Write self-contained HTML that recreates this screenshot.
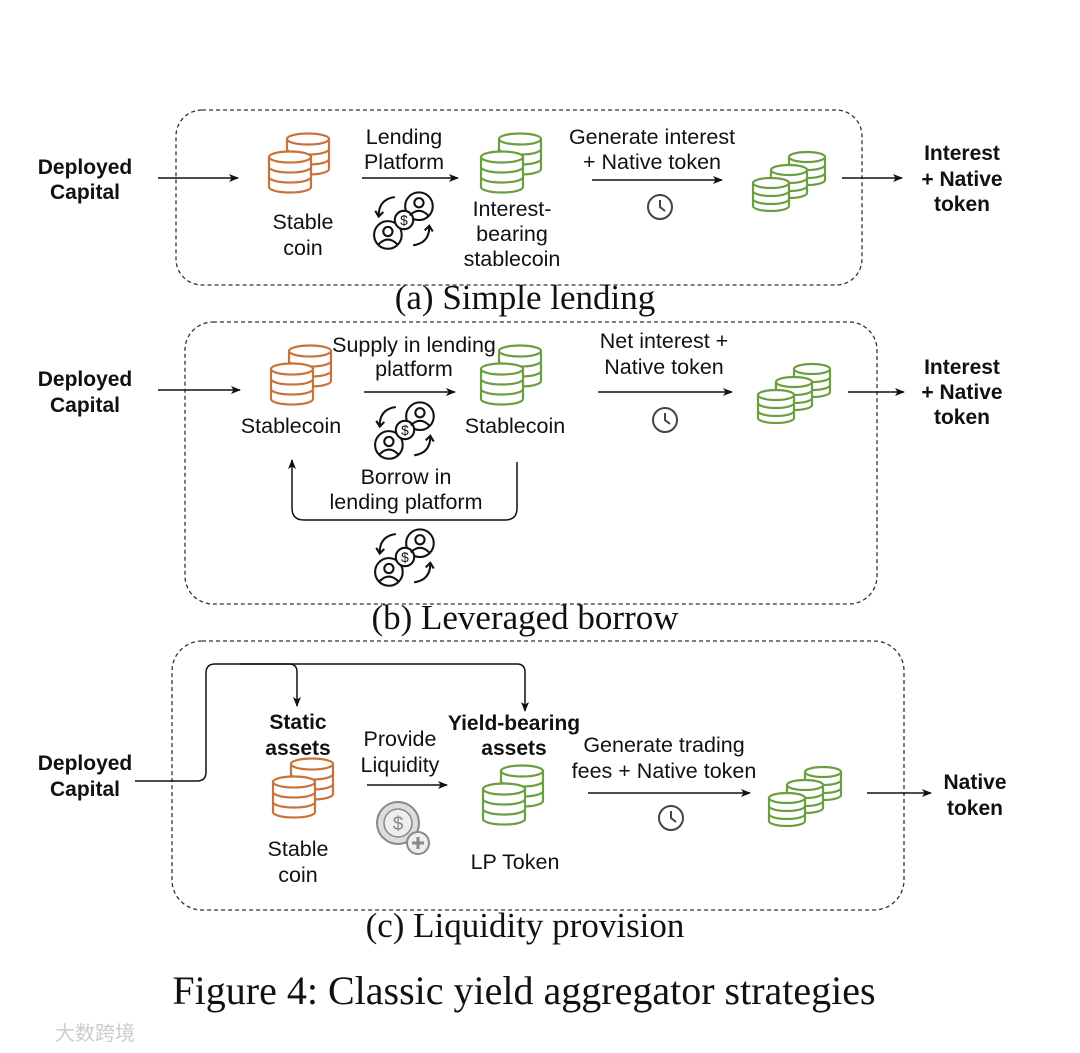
<!DOCTYPE html>
<html><head><meta charset="utf-8"><style>
html,body{margin:0;padding:0;background:#fff;}
svg{display:block;}
.t{font-family:"Liberation Sans",sans-serif;font-size:21.5px;fill:#111;text-anchor:middle;}
.b{font-weight:bold;font-size:21px;}
.cap{font-family:"Liberation Serif",serif;font-size:35px;fill:#111;text-anchor:middle;}
</style></head><body>
<svg width="1080" height="1053" viewBox="0 0 1080 1053" xmlns="http://www.w3.org/2000/svg">
<defs>
<marker id="ah" markerWidth="10" markerHeight="10" refX="9" refY="5" orient="auto" markerUnits="userSpaceOnUse">
<path d="M0,1 L10,5 L0,9 L2.5,5 Z" fill="#111"/></marker>
<symbol id="cyl" overflow="visible">
<g fill="#fff" stroke="currentColor" stroke-width="2.2">
<path d="M1,6 V36 A21,5.5 0 0 0 43,36 V6 Z"/>
<ellipse cx="22" cy="6" rx="21" ry="5.5"/>
<path d="M1,16 A21,5.5 0 0 0 43,16 M1,26 A21,5.5 0 0 0 43,26" fill="none"/>
</g></symbol>
<symbol id="cys" overflow="visible">
<g fill="#fff" stroke="currentColor" stroke-width="2.2">
<path d="M1,5 V28 A18,5 0 0 0 37,28 V5 Z"/>
<ellipse cx="19" cy="5" rx="18" ry="5"/>
<path d="M1,13 A18,5 0 0 0 37,13 M1,21 A18,5 0 0 0 37,21" fill="none"/>
</g></symbol>
<symbol id="two" overflow="visible">
<use href="#cyl" x="18" y="0"/><use href="#cyl" x="0" y="18"/>
</symbol>
<symbol id="three" overflow="visible">
<use href="#cys" x="36" y="0"/><use href="#cys" x="18" y="13"/><use href="#cys" x="0" y="26"/>
</symbol>
<symbol id="lend" overflow="visible">
<g transform="scale(1.15)">
<g fill="none" stroke="#111" stroke-width="1.8">
<circle cx="13" cy="-12" r="12"/>
<circle cx="-14" cy="13" r="12"/>
<circle cx="0" cy="0" r="8" fill="#fff"/>
<circle cx="13" cy="-15" r="4"/><path d="M5,-4 Q13,-12 21,-4"/>
<circle cx="-14" cy="10" r="4"/><path d="M-22,21 Q-14,13 -6,21"/>
<path d="M-8,-20 Q-22,-18 -22,-4"/><path d="M-25,-8 L-22,-3 L-18,-7"/>
<path d="M8,22 Q22,20 22,6"/><path d="M18,9 L22,5 L25,10"/>
</g>
<text x="0" y="4.5" font-family="Liberation Sans,sans-serif" font-size="12" text-anchor="middle" fill="#111">$</text>
</g>
</symbol>
<symbol id="clock" overflow="visible">
<circle cx="0" cy="0" r="12" fill="none" stroke="#444" stroke-width="2"/>
<path d="M0,-7 V0 L5,4" fill="none" stroke="#444" stroke-width="2"/>
</symbol>
</defs>

<!-- Panel a -->
<rect x="176" y="110" width="686" height="175" rx="26" fill="none" stroke="#333" stroke-width="1.3" stroke-dasharray="4,3"/>
<text class="t b" x="85" y="174">Deployed</text><text class="t b" x="85" y="199">Capital</text>
<line x1="158" y1="178" x2="238" y2="178" stroke="#111" stroke-width="1.5" marker-end="url(#ah)"/>
<use href="#two" x="268" y="133" style="color:#c8733a"/>
<text class="t" x="303" y="229">Stable</text><text class="t" x="303" y="255">coin</text>
<text class="t" x="404" y="144">Lending</text><text class="t" x="404" y="169">Platform</text>
<line x1="362" y1="178" x2="458" y2="178" stroke="#111" stroke-width="1.5" marker-end="url(#ah)"/>
<use href="#lend" x="404" y="220"/>
<use href="#two" x="480" y="133" style="color:#6a9e3f"/>
<text class="t" x="512" y="216">Interest-</text><text class="t" x="512" y="241">bearing</text><text class="t" x="512" y="266">stablecoin</text>
<text class="t" x="652" y="144">Generate interest</text><text class="t" x="652" y="169">+ Native token</text>
<line x1="592" y1="180" x2="722" y2="180" stroke="#111" stroke-width="1.5" marker-end="url(#ah)"/>
<use href="#clock" x="660" y="207"/>
<use href="#three" x="752" y="152" style="color:#6a9e3f"/>
<line x1="842" y1="178" x2="902" y2="178" stroke="#111" stroke-width="1.5" marker-end="url(#ah)"/>
<text class="t b" x="962" y="160">Interest</text><text class="t b" x="962" y="186">+ Native</text><text class="t b" x="962" y="211">token</text>
<text class="cap" x="525" y="309">(a) Simple lending</text>

<!-- Panel b -->
<rect x="185" y="322" width="692" height="282" rx="28" fill="none" stroke="#333" stroke-width="1.3" stroke-dasharray="4,3"/>
<text class="t b" x="85" y="386">Deployed</text><text class="t b" x="85" y="412">Capital</text>
<line x1="158" y1="390" x2="240" y2="390" stroke="#111" stroke-width="1.5" marker-end="url(#ah)"/>
<use href="#two" x="270" y="345" style="color:#c8733a"/>
<text class="t" x="291" y="433">Stablecoin</text>
<text class="t" x="414" y="352">Supply in lending</text><text class="t" x="414" y="376">platform</text>
<line x1="364" y1="392" x2="455" y2="392" stroke="#111" stroke-width="1.5" marker-end="url(#ah)"/>
<use href="#lend" x="405" y="430"/>
<use href="#two" x="480" y="345" style="color:#6a9e3f"/>
<text class="t" x="515" y="433">Stablecoin</text>
<path d="M517,462 V508 Q517,520 505,520 H304 Q292,520 292,508 V460" fill="none" stroke="#111" stroke-width="1.5" marker-end="url(#ah)"/>
<text class="t" x="406" y="484">Borrow in</text><text class="t" x="406" y="509">lending platform</text>
<use href="#lend" x="405" y="557"/>
<text class="t" x="664" y="348">Net interest +</text><text class="t" x="664" y="374">Native token</text>
<line x1="598" y1="392" x2="732" y2="392" stroke="#111" stroke-width="1.5" marker-end="url(#ah)"/>
<use href="#clock" x="665" y="420"/>
<use href="#three" x="757" y="364" style="color:#6a9e3f"/>
<line x1="848" y1="392" x2="904" y2="392" stroke="#111" stroke-width="1.5" marker-end="url(#ah)"/>
<text class="t b" x="962" y="374">Interest</text><text class="t b" x="962" y="399">+ Native</text><text class="t b" x="962" y="424">token</text>
<text class="cap" x="525" y="629">(b) Leveraged borrow</text>

<!-- Panel c -->
<rect x="172" y="641" width="732" height="269" rx="30" fill="none" stroke="#333" stroke-width="1.3" stroke-dasharray="4,3"/>
<text class="t b" x="85" y="770">Deployed</text><text class="t b" x="85" y="796">Capital</text>
<path d="M135,781 H197 Q206,781 206,772 V673 Q206,664 215,664 H517 Q525,664 525,672 V711" fill="none" stroke="#111" stroke-width="1.5" marker-end="url(#ah)"/>
<path d="M240,664 H289 Q297,664 297,672 V706" fill="none" stroke="#111" stroke-width="1.5" marker-end="url(#ah)"/>
<text class="t b" x="298" y="729">Static</text><text class="t b" x="298" y="755">assets</text>
<use href="#two" x="272" y="758" style="color:#c8733a"/>
<text class="t" x="298" y="856">Stable</text><text class="t" x="298" y="882">coin</text>
<text class="t" x="400" y="746">Provide</text><text class="t" x="400" y="772">Liquidity</text>
<line x1="367" y1="785" x2="447" y2="785" stroke="#111" stroke-width="1.5" marker-end="url(#ah)"/>
<g>
<circle cx="398" cy="823" r="21" fill="#ddd" stroke="#888" stroke-width="2"/>
<circle cx="398" cy="823" r="14" fill="#eee" stroke="#888" stroke-width="1.5"/>
<text x="398" y="830" font-family="Liberation Sans,sans-serif" font-size="19" text-anchor="middle" fill="#888">$</text>
<circle cx="418" cy="843" r="11" fill="#eee" stroke="#888" stroke-width="2"/>
<path d="M418,837 V849 M412,843 H424" stroke="#888" stroke-width="3"/>
</g>
<text class="t b" x="514" y="730">Yield-bearing</text><text class="t b" x="514" y="755">assets</text>
<use href="#two" x="482" y="765" style="color:#6a9e3f"/>
<text class="t" x="515" y="869">LP Token</text>
<text class="t" x="664" y="752">Generate trading</text><text class="t" x="664" y="778">fees + Native token</text>
<line x1="588" y1="793" x2="750" y2="793" stroke="#111" stroke-width="1.5" marker-end="url(#ah)"/>
<use href="#clock" x="671" y="818"/>
<use href="#three" x="768" y="767" style="color:#6a9e3f"/>
<line x1="867" y1="793" x2="931" y2="793" stroke="#111" stroke-width="1.5" marker-end="url(#ah)"/>
<text class="t b" x="975" y="789">Native</text><text class="t b" x="975" y="815">token</text>
<text class="cap" x="525" y="937">(c) Liquidity provision</text>

<text class="cap" x="524" y="1004" style="font-size:40px">Figure 4: Classic yield aggregator strategies</text>
<text x="55" y="1040" font-family="Liberation Sans,Noto Sans CJK SC,sans-serif" font-size="20" fill="#ccc">大数跨境</text>
</svg>
</body></html>
